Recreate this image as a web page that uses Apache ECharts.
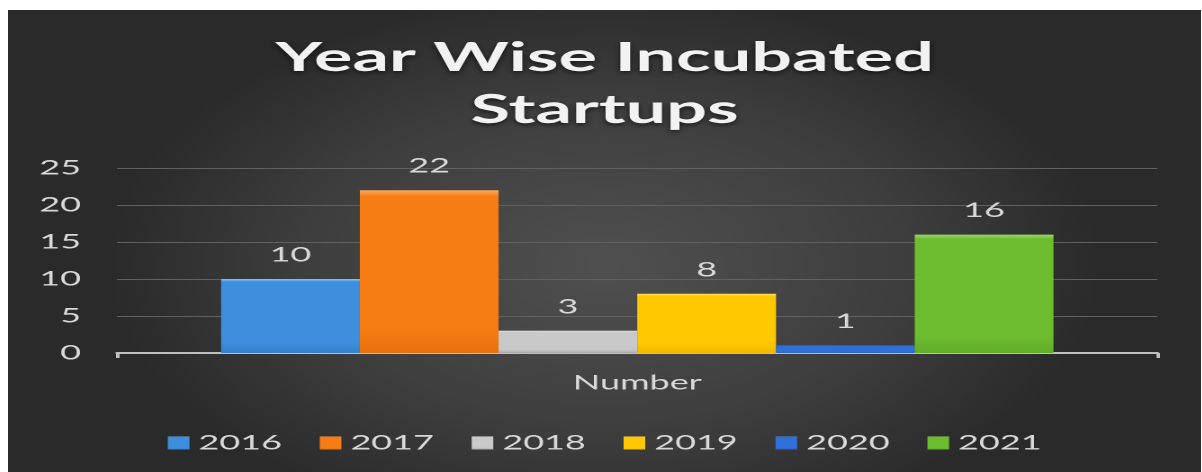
<!DOCTYPE html>
<html>
<head>
<meta charset="utf-8">
<script src="https://cdn.jsdelivr.net/npm/echarts@6/dist/echarts.min.js"></script>
<style>
  html, body { margin: 0; padding: 0; background: #ffffff; overflow: hidden; }
  /* the reference picture is stretched sideways: draw narrow, then widen */
  #chart {
    position: absolute; left: 8px; top: 10px;
    width: 663px; height: 462px;
    transform: scaleX(1.8); transform-origin: 0 0;
  }
</style>
</head>
<body>
<div id="chart"></div>
<script>
const years = ['2016', '2017', '2018', '2019', '2020', '2021'];
const counts = [10, 22, 3, 8, 1, 16];
const categories = ['Number'];
const yTicks = { min: 0, max: 25, interval: 5 };

// bar colours: [top highlight, body, bottom]
const palette = [
  ['#86c8f4', '#3d8fdd', '#3680cc'],
  ['#ffab5c', '#f67c14', '#e8700c'],
  ['#ffffff', '#c9c9c9', '#a9a9a9'],
  ['#ffe36a', '#ffc800', '#f2b600'],
  ['#6aa3ee', '#2f6fd8', '#2a62c4'],
  ['#9bd766', '#6dbd30', '#62ad28']
];

function barFill(c) {
  return new echarts.graphic.LinearGradient(0, 0, 0, 1, [
    { offset: 0, color: c[0] },
    { offset: 0.04, color: c[1] },
    { offset: 0.85, color: c[1] },
    { offset: 1, color: c[2] }
  ]);
}

const FONT = 'Lato';
const chart = echarts.init(document.getElementById('chart'), null, { devicePixelRatio: 2 });

chart.setOption({
  backgroundColor: new echarts.graphic.RadialGradient(0.5, 0.55, 0.6, [
    { offset: 0, color: '#505050' },
    { offset: 0.6, color: '#3e3e3e' },
    { offset: 1, color: '#2a2a2a' }
  ]),
  animation: false,
  title: {
    text: 'Year Wise Incubated\nStartups',
    left: 'center', top: 22, padding: 0,
    textStyle: {
      color: '#f2f2f2', fontFamily: FONT, fontWeight: 'bold',
      fontSize: 40, lineHeight: 52,
      textShadowColor: 'rgba(0,0,0,0.6)', textShadowBlur: 4, textShadowOffsetY: 2
    }
  },
  legend: {
    data: years,
    left: 'center', top: 418,
    padding: [5, 5, 5, 13],
    itemWidth: 12, itemHeight: 13, itemGap: 21,
    icon: 'rect',
    textStyle: { color: '#d9d9d9', fontFamily: FONT, fontSize: 20 }
  },
  grid: { left: 60.6, right: 24.4, top: 158, bottom: 119 },
  xAxis: {
    type: 'category', data: categories,
    axisLine: { lineStyle: { color: '#bfbfbf', width: 2 } },
    axisTick: { show: true, length: 5, lineStyle: { color: '#bfbfbf', width: 2 } },
    axisLabel: { color: '#d9d9d9', fontFamily: FONT, fontSize: 20, margin: 20 }
  },
  yAxis: {
    type: 'value', min: yTicks.min, max: yTicks.max, interval: yTicks.interval,
    axisLine: { show: false }, axisTick: { show: false },
    axisLabel: { color: '#d9d9d9', fontFamily: FONT, fontSize: 20, margin: 20 },
    splitLine: { lineStyle: { color: '#616161', width: 1 } }
  },
  series: years.map((y, i) => ({
    name: y, type: 'bar',
    data: [counts[i]],
    barGap: '0%', barCategoryGap: '20%',
    itemStyle: { color: barFill(palette[i]) },
    label: {
      show: true, position: 'top', distance: 14,
      color: '#d9d9d9', fontFamily: FONT, fontSize: 20
    }
  }))
});
</script>
</body>
</html>
